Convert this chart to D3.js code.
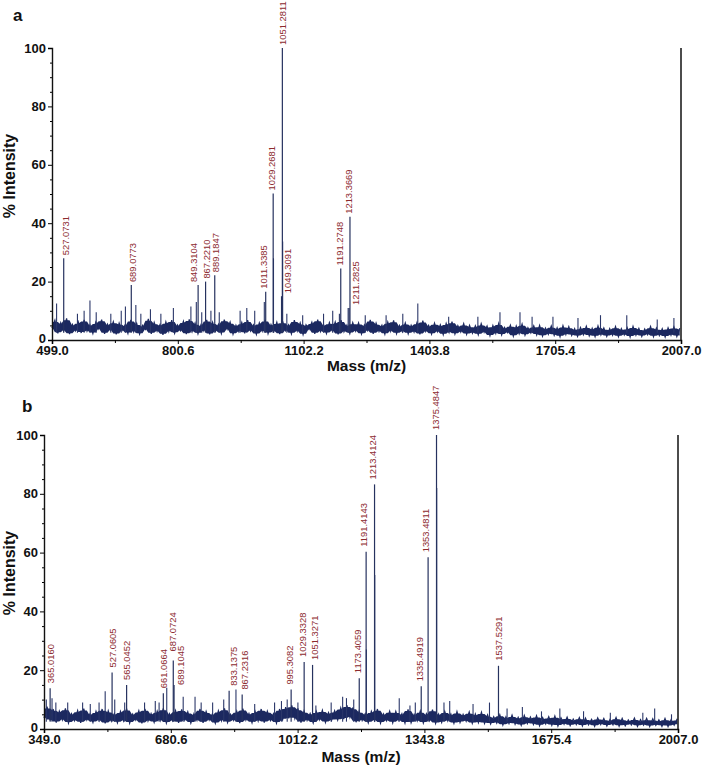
<!DOCTYPE html>
<html><head><meta charset="utf-8">
<script src="https://cdn.jsdelivr.net/npm/d3@7"></script>
<style>body{margin:0;background:#fff} text{font-family:Arial,"Liberation Sans",sans-serif}</style>
</head><body><svg id="c" width="708" height="769"></svg>
<script>
// ---------- tick values ----------
const xTicksA = [499.0, 800.6, 1102.2, 1403.8, 1705.4, 2007.0];
const xMinorA = [649.8, 951.4, 1253.0, 1554.6, 1856.2];
const xTicksB = [349.0, 680.6, 1012.2, 1343.8, 1675.4, 2007.0];
const xMinorB = [514.8, 846.4, 1178.0, 1509.6, 1841.2];
const yTicks = [0, 20, 40, 60, 80, 100];
const yMinor = [5,10,15,25,30,35,45,50,55,65,70,75,85,90,95];

// ---------- panel a: labelled peaks ----------
const peakMzA    = [527.0731, 689.0773, 849.3104, 867.2210, 889.1847, 1011.3385, 1029.2681, 1049.3091, 1051.2811, 1191.2748, 1211.2825, 1213.3669];
const peakIntA   = [28, 18.8, 18.8, 20, 22.2, 16.5, 50.2, 15, 100, 24.5, 11, 42.2];
const peakLabelA = ["527.0731","689.0773","849.3104","867.2210","889.1847","1011.3385","1029.2681","1049.3091","1051.2811","1191.2748","1211.2825","1213.3669"];
const labelNudgeA = [[1.5,0],[1.5,0],[-4,0],[1,0],[1,0],[-2,0],[-1,0],[6,0],[0,0],[-1.5,0],[7,0],[-1.5,0]];
// ---------- panel a: unlabelled spikes [m/z, %] ----------
const spikesA = [[510,12.5],[560,9],[576,10],[590,13.5],[605,9.5],[640,9],[665,10],[675,11.5],[700,12],[712,9],[735,10.5],[760,9],[790,11],[832,11.5],[845,13],[858,9.5],[880,10],[900,9.5],[950,10],[966,11],[985,10],[1008,13],[1030,28],[1052,33.7],[1062,9],[1100,8.5],[1150,9],[1172,10],[1188,9],[1209,11],[1250,8.5],[1300,8.5],[1340,9],[1376,12.5],[1450,8],[1520,8],[1573,9.5],[1621,9.5],[1650,8],[1700,8],[1760,7.5],[1814,8.5],[1877,8.5],[1950,7],[1990,7.5]];
// ---------- panel a: baseline noise (start 499, step 7 m/z) ----------
const noiseStartA = 499, noiseStepA = 7;
const noiseA = [
4.1,6.8,2.3,5.9,3.2,7.4,2.0,5.3,3.1,6.2,2.4,6.9,3.0,5.2,2.2,6.1,3.8,7.0,2.1,5.4,3.3,6.3,1.9,5.8,
3.2,5.1,2.2,6.9,2.8,5.7,2.0,5.0,3.6,7.2,2.1,6.0,3.0,5.3,1.8,6.2,2.9,6.8,2.3,5.1,3.2,6.4,2.0,7.1,
2.9,5.8,2.1,5.2,3.1,6.9,1.9,6.1,3.0,5.4,2.2,7.0,3.7,6.2,2.0,5.1,2.8,6.0,2.3,6.8,3.1,5.2,1.9,5.9,
3.0,6.9,2.2,5.3,2.9,6.1,2.0,6.3,3.2,5.2,2.1,6.8,3.0,5.9,1.8,5.2,3.6,6.1,2.1,7.0,2.9,5.3,2.2,6.0,
3.1,6.2,1.9,6.8,2.8,5.1,2.2,6.0,3.0,5.9,2.0,5.2,3.2,6.9,2.1,5.8,2.9,5.1,2.0,6.2,3.0,6.7,2.1,5.0,
2.8,5.9,2.1,5.1,2.7,6.0,1.9,6.6,2.9,5.0,2.0,5.8,2.8,5.2,1.8,5.7,2.6,6.3,2.0,4.9,2.7,5.6,1.9,5.0,
2.3,4.9,1.8,5.6,2.6,4.8,1.4,5.0,2.2,5.7,1.7,4.3,2.5,5.1,1.3,4.8,2.1,5.5,1.6,4.2,2.4,4.9,1.7,5.0,
1.3,4.1,1.9,4.8,1.6,4.2,1.1,4.9,1.8,4.6,1.5,3.9,1.2,4.3,1.8,4.7,1.4,4.0,1.1,4.8,1.7,4.1,1.2,3.9,
1.6,4.6,1.1,3.9,1.7,4.2,1.0,4.7,1.6,4.0,1.2,3.8,1.8,4.6,1.1,4.1,1.5,3.9,1.0,4.2,1.6,4.5,1.2,4.0];

// ---------- panel b: labelled peaks ----------
const peakMzB    = [365.0160, 527.0605, 565.0452, 661.0664, 687.0724, 689.1045, 833.1375, 867.2316, 995.3082, 1029.3328, 1051.3271, 1173.4059, 1191.4143, 1213.4124, 1335.4919, 1353.4811, 1375.4847, 1537.5291];
const peakIntB   = [13.9, 19.2, 15, 12.2, 23.3, 15, 13, 11.7, 13.4, 22.8, 21.8, 17.3, 60.3, 83.2, 14.5, 58.4, 100, 21.5];
const peakLabelB = ["365.0160","527.0605","565.0452","661.0664","687.0724","689.1045","833.1375","867.2316","995.3082","1029.3328","1051.3271","1173.4059","1191.4143","1213.4124","1335.4919","1353.4811","1375.4847","1537.5291"];
const labelNudgeB = [[1,0],[1,0],[0,0],[0,0],[-1,-4],[7,5],[5,0],[3,0],[-1,0],[-1.5,0],[2,0],[-2,0],[-2,0],[-1.5,0],[-2,0],[-2,0],[-1,0],[0,0]];
// ---------- panel b: unlabelled spikes ----------
const spikesB = [[355,10],[370,10.5],[380,9],[411,9],[450,9],[470,8.5],[493,9],[509,12.8],[534,10],[560,9],[612,9],[640,9.5],[650,9],[670,14],[713,11],[744,11],[760,9],[790,9],[819,10],[851,13.4],[900,8.5],[952,9],[970,9.5],[985,10],[1013,9],[1060,8],[1100,9],[1130,11],[1140,10.5],[1159,10],[1192,27],[1214,52.4],[1278,10.5],[1306,8],[1320,9],[1376,82],[1395,9],[1410,9.5],[1471,8.5],[1514,9],[1560,7],[1600,7.5],[1650,6],[1698,7],[1760,6],[1830,5.5],[1915,5.5],[1946,7],[1990,5]];
// ---------- panel b: baseline noise (start 349, step 8 m/z) ----------
const noiseStartB = 349, noiseStepB = 8;
const noiseB = [
3.8,7.6,2.9,6.8,2.2,6.1,3.1,7.0,2.0,5.2,2.8,6.3,2.1,6.9,3.0,5.1,2.2,6.0,2.9,6.8,1.9,6.2,2.7,5.3,
2.1,6.0,2.8,6.9,2.0,5.1,3.0,6.2,1.9,6.8,2.7,5.3,2.2,6.1,2.9,7.0,2.0,5.2,2.8,6.3,2.1,6.7,3.0,5.9,
2.0,5.2,2.9,6.8,2.1,6.0,3.0,5.1,1.9,6.2,2.8,7.0,2.2,5.0,2.9,6.1,2.0,6.9,3.0,5.3,2.1,6.0,2.7,6.8,
2.2,6.1,2.9,5.2,2.0,6.8,3.1,7.4,3.6,8.0,3.5,7.0,2.2,6.1,2.9,5.3,2.0,6.0,3.1,6.4,2.2,5.6,2.9,6.2,
3.0,7.2,3.4,8.1,3.9,7.3,2.3,6.1,2.9,5.2,2.1,6.0,2.9,6.8,2.0,5.1,2.8,6.1,2.1,6.0,2.9,5.2,2.0,6.7,
2.1,5.0,2.7,6.1,2.0,5.2,2.8,6.6,1.9,5.1,2.2,6.0,2.7,5.1,1.9,5.9,2.2,5.0,2.6,5.8,1.9,5.1,2.1,5.7,
1.9,4.8,1.7,4.2,2.0,4.9,1.3,4.1,1.8,4.7,1.6,4.0,1.2,4.6,1.8,4.1,1.5,4.5,1.1,3.9,1.7,4.2,1.2,4.4,
1.0,3.8,1.6,4.0,1.1,3.4,1.5,3.9,1.0,3.7,1.4,3.3,0.9,3.8,1.5,3.6,1.0,3.2,1.4,3.9,0.9,3.6,1.1,3.1,
1.4,3.7,0.9,3.2,1.3,3.6,0.8,3.5,1.2,3.1,0.9,3.6,0.8,3.2,1.3,3.5];

const svg = d3.select("#c");
const NAVY = "#1c2960", LABEL = "#8c2a2f";

function panel(o) {
  const g = svg.append("g");
  const x = d3.scaleLinear().domain([o.xTicks[0], o.xTicks[o.xTicks.length-1]]).range([o.left, o.right]);
  const y = d3.scaleLinear().domain([0, 100]).range([o.bottom, o.top]);

  // noise trace: solid core band between neighbouring lows/highs, plus the jagged trace
  const pts = o.noise.map((v, i) => [o.nStart + i * o.nStep, v]);
  const nb = i => [o.noise[Math.max(0, i-1)], o.noise[i], o.noise[Math.min(o.noise.length-1, i+1)]];
  g.append("path").datum(pts)
    .attr("d", d3.area().x(d => x(d[0]))
      .y0((d, i) => y(Math.min(...nb(i)) + 0.35))
      .y1((d, i) => y(Math.max(...nb(i)) - 0.6)))
    .attr("fill", NAVY).attr("stroke", "none");
  g.append("path").datum(pts)
    .attr("d", d3.line().x(d => x(d[0])).y(d => y(d[1])))
    .attr("fill", "none").attr("stroke", NAVY).attr("stroke-width", 1.2).attr("stroke-linejoin", "miter");

  // spikes
  g.selectAll(".sp").data(o.spikes).join("line")
    .attr("x1", d => x(d[0])).attr("x2", d => x(d[0]))
    .attr("y1", y(2.5)).attr("y2", d => y(d[1]))
    .attr("stroke", "#2b3769").attr("stroke-width", 1.1);

  // labelled peaks
  const peaks = o.mz.map((m, i) => ({m, v: o.int[i], lab: o.lab[i], n: o.nudge[i]}));
  g.selectAll(".pk").data(peaks).join("line")
    .attr("x1", d => x(d.m)).attr("x2", d => x(d.m))
    .attr("y1", y(2.5)).attr("y2", d => y(d.v))
    .attr("stroke", "#26325f").attr("stroke-width", 1.2);
  g.selectAll(".pl").data(peaks).join("text")
    .attr("transform", d => `translate(${x(d.m) + d.n[0]},${y(d.v) - o.gap + d.n[1]}) rotate(-90)`)
    .attr("dy", "0.35em").attr("font-size", 9.4).attr("fill", LABEL)
    .text(d => d.lab);

  // right frame line
  g.append("line").attr("x1", o.right).attr("x2", o.right).attr("y1", y(0)).attr("y2", y(100))
    .attr("stroke", "#111").attr("stroke-width", 1.5);

  // axes
  const ya = g.append("g").attr("transform", `translate(${o.left},0)`)
    .call(d3.axisLeft(y).tickValues(yTicks).tickSize(4).tickPadding(2).tickFormat(d3.format("d")));
  ya.select(".domain").attr("stroke", "#111").attr("stroke-width", 1.4);
  ya.selectAll("text").attr("font-size", 13).attr("font-weight", "bold").attr("fill", "#111")
    .attr("font-family", "Arial, 'Liberation Sans', sans-serif")
    .attr("dy", d => d === 0 ? "0.2em" : "0.32em");
  g.append("g").attr("transform", `translate(${o.left},0)`)
    .call(d3.axisLeft(y).tickValues(yMinor).tickSize(2).tickFormat(""))
    .select(".domain").remove();

  const xa = g.append("g").attr("transform", `translate(0,${o.bottom})`)
    .call(d3.axisBottom(x).tickValues(o.xTicks).tickSize(4).tickPadding(2).tickFormat(d3.format(".1f")));
  xa.select(".domain").attr("stroke", "#111").attr("stroke-width", 1.6);
  xa.selectAll("text").attr("font-size", 13).attr("font-weight", "bold").attr("fill", "#111")
    .attr("font-family", "Arial, 'Liberation Sans', sans-serif");
  g.append("g").attr("transform", `translate(0,${o.bottom})`)
    .call(d3.axisBottom(x).tickValues(o.xMinor).tickSize(3).tickFormat(""))
    .select(".domain").remove();

  // titles
  g.append("text").attr("x", (o.left + o.right) / 2).attr("y", o.xTitleY)
    .attr("text-anchor", "middle").attr("font-size", 15.5).attr("font-weight", "bold").attr("fill", "#111")
    .text("Mass (m/z)");
  g.append("text").attr("transform", `translate(${o.yTitleX},${o.yTitleY}) rotate(-90)`)
    .attr("text-anchor", "middle").attr("font-size", 16).attr("font-weight", "bold").attr("fill", "#111")
    .text("% Intensity");
  g.append("text").attr("x", o.letterX).attr("y", o.letterY)
    .attr("font-size", 17).attr("font-weight", "bold").attr("fill", "#111").text(o.letter);
}

panel({letter: "a", letterX: 13, letterY: 21, left: 52, right: 681, top: 48, bottom: 340,
  xTicks: xTicksA, xMinor: xMinorA, noise: noiseA, nStart: noiseStartA, nStep: noiseStepA,
  spikes: spikesA, mz: peakMzA, int: peakIntA, lab: peakLabelA, nudge: labelNudgeA, gap: 3,
  xTitleY: 371, yTitleX: 15, yTitleY: 176});
panel({letter: "b", letterX: 22, letterY: 412, left: 44, right: 678, top: 435, bottom: 729,
  xTicks: xTicksB, xMinor: xMinorB, noise: noiseB, nStart: noiseStartB, nStep: noiseStepB,
  spikes: spikesB, mz: peakMzB, int: peakIntB, lab: peakLabelB, nudge: labelNudgeB, gap: 5,
  xTitleY: 762, yTitleX: 15, yTitleY: 573});
</script></body></html>
